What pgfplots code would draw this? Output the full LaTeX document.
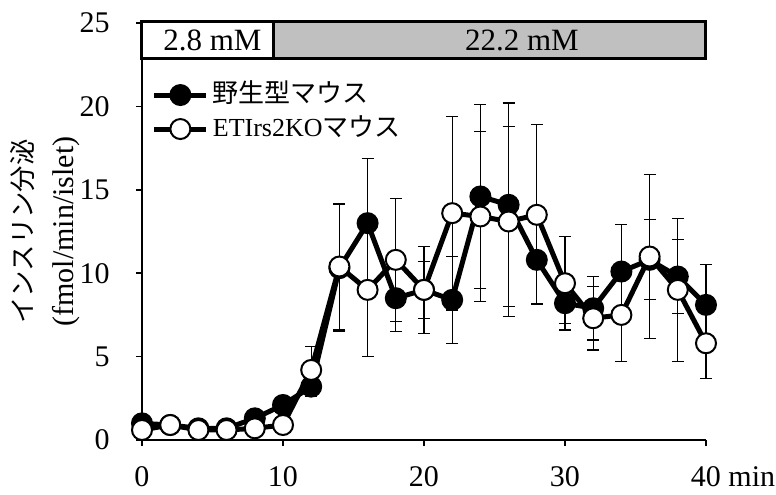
\documentclass[border=0pt]{standalone}
\usepackage{fontspec}
\setmainfont{Liberation Serif}
\newfontfamily\cjk{Noto Sans CJK JP}
\usepackage{pgfplots}
\usepackage{pgfplotstable}
\pgfplotsset{compat=1.18}
\definecolor{barGray}{RGB}{192,192,192}
\pgfplotstableread{
t y e
0 1.0 0.2
2 0.9 0.2
4 0.7 0.2
6 0.7 0.2
8 1.3 0.4
10 2.1 0.5
12 3.2 0.6
14 10.3 3.8
16 13.0 3.9
18 8.5 2.0
20 9.0 1.7
22 8.4 2.6
24 14.6 5.5
26 14.1 6.1
28 10.8 2.6
30 8.2 1.2
32 7.9 1.9
34 10.1 2.8
36 10.8 2.4
38 9.8 2.2
40 8.1 2.4
}\wt
\pgfplotstableread{
t y e
0 0.6 0.2
2 0.9 0.2
4 0.6 0.2
6 0.6 0.2
8 0.7 0.2
10 0.9 0.3
12 4.2 1.4
14 10.4 3.8
16 9.0 4.0
18 10.8 3.7
20 9.0 2.6
22 13.6 5.8
24 13.4 5.1
26 13.1 5.7
28 13.5 5.4
30 9.4 2.8
32 7.3 1.9
34 7.5 2.8
36 11.0 4.9
38 9.0 4.3
40 5.8 2.1
}\ko
\begin{document}
\fontsize{15}{18}\selectfont
\begin{tikzpicture}
\begin{axis}[
  scale only axis, width=282pt, height=208.5pt,
  xmin=0, xmax=40, ymin=0, ymax=25,
  axis lines=left,
  axis line style={-, line width=0.8pt},
  xtick={0,10,20,30,40},
  xticklabels={0,10,20,30,40\rlap{ min}},
  ytick={0,5,10,15,20,25},
  tick align=outside, major tick length=3pt,
  tick style={black, line width=0.8pt},
  /pgf/number format/assume math mode=true,
  tick label style={font=\fontsize{15}{18}\selectfont},
  xticklabel style={yshift=-5pt},
  yticklabel style={xshift=-8pt},
  clip=false,
  legend style={draw=none, fill=none, at={(axis cs:0.7,21.7)}, anchor=north west,
    inner sep=0pt, outer sep=0pt,
    nodes={text height=10pt, text depth=3pt, inner sep=2pt},
    font=\fontsize{13}{16}\selectfont},
  legend cell align=left,
  legend image code/.code={\draw[mark repeat=2,mark phase=2,#1] plot coordinates {(0pt,0pt) (13pt,0pt) (26pt,0pt)};},
  error bars/y dir=both, error bars/y explicit,
  error bars/error bar style={line width=0.6pt, solid, black},
  error bars/error mark options={rotate=90, mark size=3pt, line width=0.6pt, black},
]
\addplot[black, line width=2.5pt, mark=*, mark size=5pt, mark options={solid, fill=black, draw=black, line width=1pt}]
  table[x=t, y=y, y error=e] {\wt};
\addlegendentry{{\cjk 野生型マウス}}
\addplot[black, line width=2.5pt, mark=*, mark size=5pt, mark options={solid, fill=white, draw=black, line width=1pt}]
  table[x=t, y=y, y error=e] {\ko};
\addlegendentry{ETIrs2KO{\cjk マウス}}
\draw[line width=1.5pt, fill=white] (axis cs:0,22.85) rectangle (axis cs:9.35,25.1);
\draw[line width=1.5pt, fill=barGray] (axis cs:9.35,22.85) rectangle (axis cs:40,25.1);
\node[font=\fontsize{15.5}{18}\selectfont] at (axis cs:5.0,23.95) {2.8 mM};
\node[font=\fontsize{15.5}{18}\selectfont] at (axis cs:26.95,23.95) {22.2 mM};
\node[rotate=90, align=center, font=\fontsize{15}{20.75}\selectfont] at ([xshift=-48.5pt]axis description cs:0,0.5) {{\cjk\fontsize{13.2}{20.75}\selectfont インスリン分泌}\\(fmol/min/islet)};
\end{axis}
\pgfresetboundingbox
\path ([xshift=-71pt, yshift=-27pt]current axis.south west) rectangle ([xshift=35pt, yshift=11.5pt]current axis.north east);
\end{tikzpicture}
\end{document}
